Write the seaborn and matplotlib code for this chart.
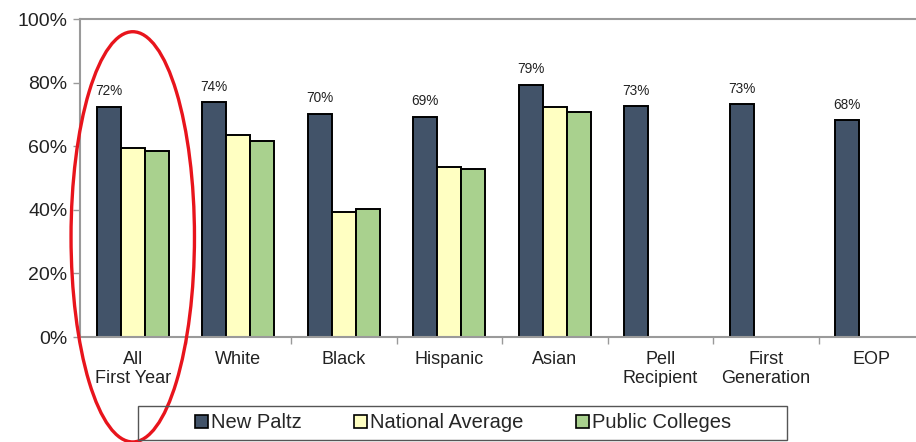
import numpy as np
import pandas as pd
import matplotlib
matplotlib.use("Agg")
import matplotlib.pyplot as plt
import seaborn as sns
from matplotlib.patches import Ellipse, Rectangle
from matplotlib.ticker import PercentFormatter, FixedLocator

categories = ["All\nFirst Year", "White", "Black", "Hispanic", "Asian",
              "Pell\nRecipient", "First\nGeneration", "EOP"]
series = ["New Paltz", "National Average", "Public Colleges"]
new_paltz = [72.4, 73.9, 70.2, 69.3, 79.4, 72.6, 73.2, 68.2]
national_avg = [59.5, 63.4, 39.3, 53.6, 72.4, np.nan, np.nan, np.nan]
public_colleges = [58.6, 61.5, 40.3, 52.7, 70.8, np.nan, np.nan, np.nan]
colors = ["#425369", "#ffffc2", "#a9d18e"]
yticks = [0, 20, 40, 60, 80, 100]

df = pd.DataFrame({
    "category": categories * 3,
    "series": [series[0]] * 8 + [series[1]] * 8 + [series[2]] * 8,
    "value": new_paltz + national_avg + public_colleges,
})

sns.set_style("white")
plt.rcParams["font.family"] = ["Liberation Sans", "DejaVu Sans"]

fig = plt.figure(figsize=(9.16, 4.42), dpi=100)
ax = fig.add_axes([80 / 916, (442 - 337) / 442, 844 / 916, 318 / 442])

sns.barplot(data=df, x="category", y="value", hue="series", order=categories,
            hue_order=series, palette=colors, width=0.68, edgecolor="black",
            linewidth=1.4, ax=ax, saturation=1)

ax.set_ylim(0, 100)
ax.set_xlim(-0.5, 7.5)
ax.yaxis.set_major_locator(FixedLocator(yticks))
ax.yaxis.set_major_formatter(PercentFormatter(decimals=0))
ax.set_xlabel("")
ax.set_ylabel("")

for s in ["top", "left", "bottom", "right"]:
    ax.spines[s].set_color("#9a9a9a")
    ax.spines[s].set_linewidth(1.5)

ax.tick_params(axis="y", labelsize=14, colors="#9a9a9a", labelcolor="#222222",
               length=5, width=1, direction="out", left=True, pad=4)
ax.tick_params(axis="x", which="major", labelsize=13, labelcolor="#222222",
               length=0, pad=10)
ax.set_xticks(np.arange(0.5, 7.5, 1), minor=True)
ax.tick_params(axis="x", which="minor", length=5, width=1, colors="#9a9a9a",
               direction="out", bottom=True)

# data labels on New Paltz bars
np_container = ax.containers[0]
ax.bar_label(np_container, labels=[f"{v:.0f}%" for v in new_paltz],
             padding=6, fontsize=9.8, color="#222222")

# legend
handles, labels = ax.get_legend_handles_labels()
ax.get_legend().remove()
leg = fig.legend(handles, labels, loc="center", ncol=3,
                 bbox_to_anchor=(463 / 916, (442 - 423) / 442),
                 fontsize=14.5, frameon=False,
                 handlelength=0.65, handleheight=0.65, handletextpad=0.15,
                 columnspacing=2.6, borderpad=0.2)
for h in leg.legend_handles:
    h.set_edgecolor("black")
    h.set_linewidth(1.2)
fig.patches.append(Rectangle((138 / 916, (442 - 440) / 442), 649 / 916, 34 / 442,
                             transform=fig.transFigure, fill=False,
                             edgecolor="#555555", linewidth=1.0))

# red ellipse highlight
ell = Ellipse((0.0, 31.5), width=1.17, height=129, fill=False,
              edgecolor="#e8141c", linewidth=2.4, clip_on=False, zorder=10)
ax.add_patch(ell)

fig.savefig("out.png", dpi=100)
